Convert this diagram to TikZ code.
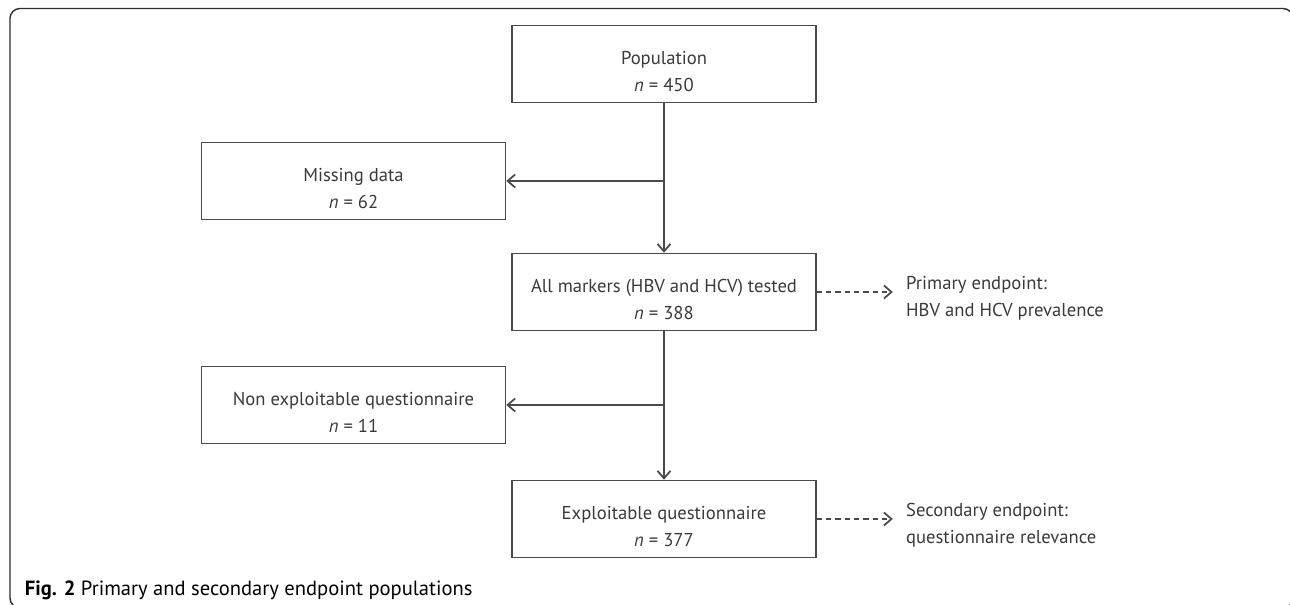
\documentclass[tikz,border=0pt]{standalone}
\usepackage{fontspec}
\setmainfont{PT Sans}
\usetikzlibrary{positioning,arrows.meta}
\definecolor{linegray}{HTML}{4A4A4A}
\definecolor{textgray}{HTML}{3A3A3A}
\definecolor{framegray}{HTML}{2E2E2E}

\begin{document}
\begin{tikzpicture}[
    font=\fontsize{10.6}{15.4}\selectfont,
    text=textgray,
    % Styles for the flow chart
    box/.style={draw=linegray, line width=0.9pt, minimum width=6.08cm, minimum height=1.54cm, align=center, inner sep=0pt,
        text height=1.1cm, text depth=0cm},
    note/.style={align=left, inner sep=0pt, yshift=-0.12cm},
    arrow/.style={-{Straight Barb[length=0.15cm, width=0.26cm, line width=1pt]}, draw=linegray, line width=0.9pt},
    dasharrow/.style={arrow, dash pattern=on 3pt off 2.3pt, shorten >=0.26cm}
]
\useasboundingbox (0,0) rectangle (25.8,12.1);
\clip (0,0) rectangle (25.8,12.1);

% --- frame of the figure ---
\draw[framegray, line width=0.8pt, rounded corners=0.2cm] (0.2,-0.06) rectangle (25.86,11.93);

% --- main column ---
\node[box] (pop) at (13.28,10.82) {Population\\ \textit{n} = 450};
\node[box] (tested) at (13.28,6.26) {All markers (HBV and HCV) tested\\ \textit{n} = 388};
\node[box] (exploit) at (13.28,1.72) {Exploitable questionnaire\\ \textit{n} = 377};

% --- excluded ---
\node[box] (missing) at (7.07,8.48) {Missing data\\ \textit{n} = 62};
\node[box] (nonexp) at (7.07,4.0) {Non exploitable questionnaire\\ \textit{n} = 11};

% --- endpoints ---
\node[note, right=1.78cm of tested] (primary) {Primary endpoint:\\ HBV and HCV prevalence};
\node[note, right=1.78cm of exploit] (secondary) {Secondary endpoint:\\ questionnaire relevance};

% --- connectors ---
\draw[arrow] (pop.south) -- (tested.north);
\draw[arrow] (pop.south |- missing.east) -- (missing.east);
\draw[arrow] (tested.south) -- (exploit.north);
\draw[arrow] (tested.south |- nonexp.east) -- (nonexp.east);
\draw[dasharrow] (tested.east) -- (tested.east -| primary.west);
\draw[dasharrow] (exploit.east) -- (exploit.east -| secondary.west);

% --- caption ---
\node[anchor=west, inner sep=0pt, text=black, font=\fontsize{11.7}{14}\selectfont] (caption) at (0.49,0.3)
    {\textbf{Fig. 2} Primary and secondary endpoint populations};
\end{tikzpicture}
\end{document}
